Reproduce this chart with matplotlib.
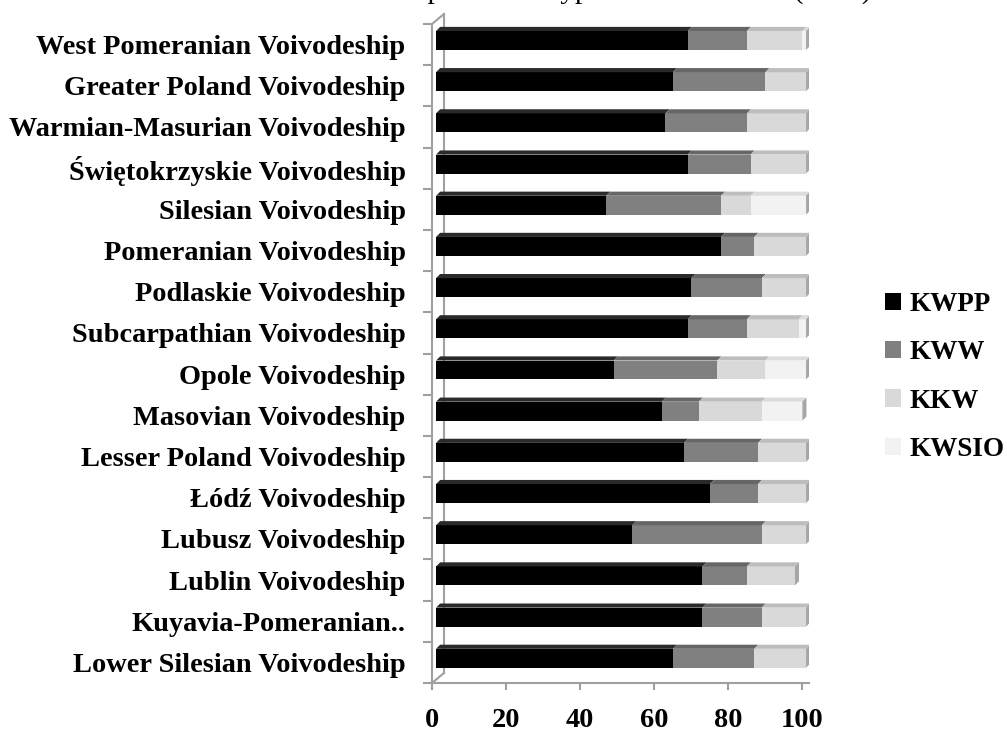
import matplotlib
matplotlib.use("Agg")
import matplotlib.pyplot as plt
from matplotlib.patches import Polygon, Patch

# regions listed top to bottom as in the chart
regions = [
    "West Pomeranian Voivodeship",
    "Greater Poland Voivodeship",
    "Warmian-Masurian Voivodeship",
    "Świętokrzyskie Voivodeship",
    "Silesian Voivodeship",
    "Pomeranian Voivodeship",
    "Podlaskie Voivodeship",
    "Subcarpathian Voivodeship",
    "Opole Voivodeship",
    "Masovian Voivodeship",
    "Lesser Poland Voivodeship",
    "Łódź Voivodeship",
    "Lubusz Voivodeship",
    "Lublin Voivodeship",
    "Kuyavia-Pomeranian..",
    "Lower Silesian Voivodeship",
]
kwpp = [68, 64, 62, 68, 46, 77, 69, 68, 48, 61, 67, 74, 53, 72, 72, 64]
kww = [16, 25, 22, 17, 31, 9, 19, 16, 28, 10, 20, 13, 35, 12, 16, 22]
kkw = [15, 11, 16, 15, 8, 14, 12, 14, 13, 17, 13, 13, 12, 13, 12, 14]
kwsio = [1, 0, 0, 0, 15, 0, 0, 2, 11, 11, 0, 0, 0, 0, 0, 0]

series_names = ["KWPP", "KWW", "KKW", "KWSIO"]
series = [kwpp, kww, kkw, kwsio]
front_colors = ["#000000", "#808080", "#d9d9d9", "#f2f2f2"]
top_colors = ["#2a2a2a", "#666666", "#bdbdbd", "#dcdcdc"]
xticks = [0, 20, 40, 60, 80, 100]

FONT = "Liberation Serif"
W, H = 1007, 736
PX_PER_UNIT = 3.7

fig = plt.figure(figsize=(W / 100, H / 100), dpi=100)
fig.patch.set_facecolor("white")
ax = fig.add_axes([432 / W, 1 - 683 / H, 102 * PX_PER_UNIT / W, (683 - 24) / H])
ax.set_xlim(0, 102)
ax.set_ylim(-0.5, 15.5)

n = len(regions)
ypos = list(range(n))[::-1]  # first region on top
x0 = 1.1       # front face shift caused by the 3d depth
h = 0.46
ddx, ddy = 1.1, 0.1
wall_dx, wall_dy = 3.24, 0.243

# back wall lines
grey = "#a0a0a0"
ax.plot([wall_dx, wall_dx], [-0.5 + wall_dy, 15.5 + wall_dy], color=grey, lw=1.5,
        zorder=1, clip_on=False)
ax.plot([0, wall_dx], [-0.5, -0.5 + wall_dy], color=grey, lw=1.5, zorder=1, clip_on=False)
ax.plot([0, wall_dx], [15.5, 15.5 + wall_dy], color=grey, lw=1.5, zorder=1, clip_on=False)

for i in range(n):
    y = ypos[i] + 0.1
    yb, yt = y - h / 2, y + h / 2
    left = x0
    for s, vals in enumerate(series):
        v = vals[i]
        if v <= 0:
            continue
        ax.barh(y, v, left=left, height=h, color=front_colors[s], zorder=3)
        ax.add_patch(Polygon([(left, yt), (left + v, yt), (left + v + ddx, yt + ddy),
                              (left + ddx, yt + ddy)], closed=True,
                             facecolor=top_colors[s], edgecolor="none", zorder=3))
        left += v
    ax.add_patch(Polygon([(left, yb), (left, yt), (left + ddx, yt + ddy),
                          (left + ddx, yb + ddy)], closed=True,
                         facecolor="#a6a6a6", edgecolor="none", zorder=3))

# axes styling
for sp in ["top", "right"]:
    ax.spines[sp].set_visible(False)
for sp in ["left", "bottom"]:
    ax.spines[sp].set_color(grey)
    ax.spines[sp].set_linewidth(1.5)

ax.set_yticks(ypos)
ax.set_yticklabels(regions, fontfamily=FONT, fontweight="bold", fontsize=20.4)
ax.set_yticks([k - 0.5 for k in range(n + 1)], minor=True)
ax.tick_params(axis="y", which="major", length=0, pad=19)
ax.tick_params(axis="y", which="minor", length=6.5, width=1.5, color=grey)

ax.set_xticks(xticks)
ax.set_xticklabels([str(t) for t in xticks], fontfamily=FONT, fontweight="bold", fontsize=20.4)
ax.tick_params(axis="x", length=5, width=1.5, color=grey, pad=13)

# title, mostly cut off at the top edge of the picture (as in the reference)
fig.text(621 / W, 1 + 1 / H, "Comparison of types of committees (2014)",
         fontfamily=FONT, fontsize=21, ha="center", va="baseline")

handles = [Patch(facecolor=c, edgecolor="none") for c in front_colors]
fig.legend(handles, series_names, loc="upper left", bbox_to_anchor=(885 / W, 1 - 292 / H),
           frameon=False, prop={"family": FONT, "weight": "bold", "size": 19.5},
           handlelength=0.6, handleheight=0.6, handletextpad=0.3, labelspacing=0.86,
           borderpad=0, borderaxespad=0)

fig.savefig("out.png", dpi=100)
